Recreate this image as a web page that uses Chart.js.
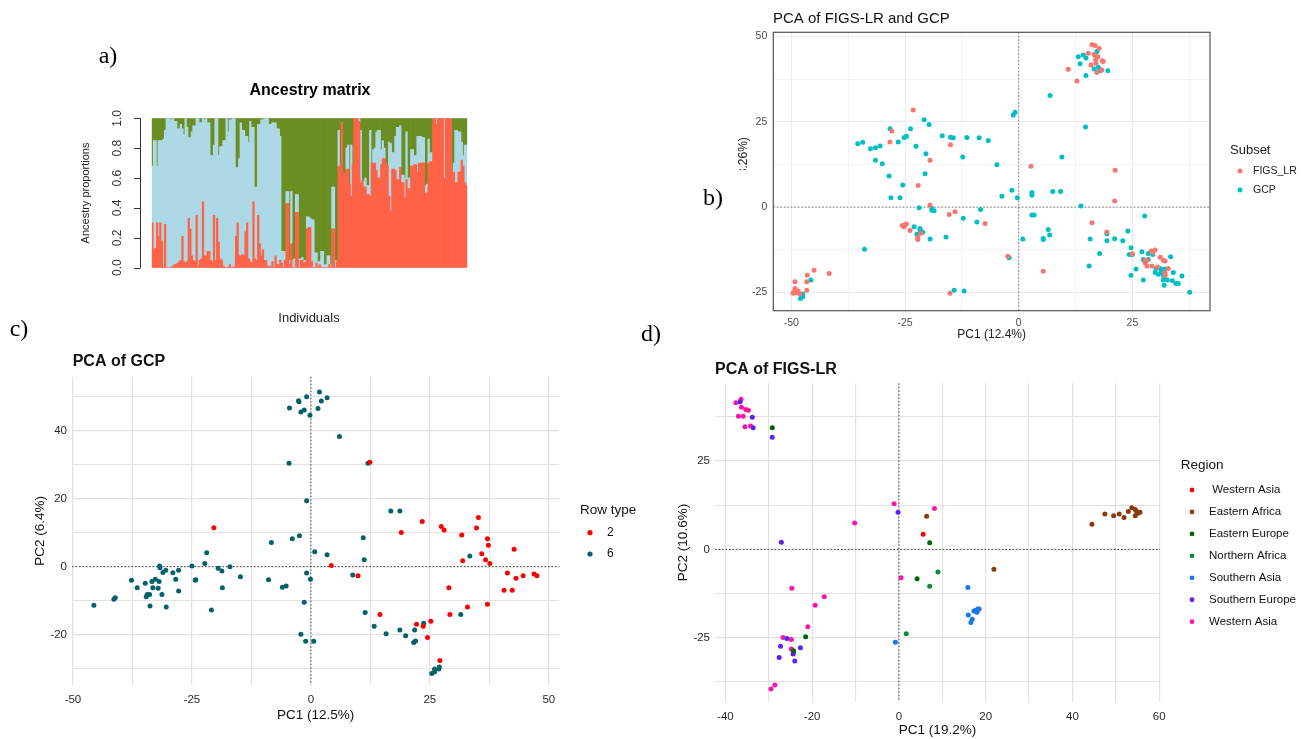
<!DOCTYPE html>
<html><head><meta charset="utf-8">
<script src="https://cdn.jsdelivr.net/npm/chart.js@4.4.1/dist/chart.umd.min.js"></script>
<style>
html,body{margin:0;padding:0;background:#fff;}
body{width:1311px;height:739px;position:relative;overflow:hidden;font-family:"Liberation Sans",Arial,sans-serif;}
canvas{position:absolute;}
.pl{position:absolute;font-family:"Liberation Serif","Times New Roman",serif;font-size:24px;color:#000;transform:translate(-50%,-50%);line-height:1;z-index:5;}
</style></head><body>
<canvas id="ca" width="700" height="340" style="left:0;top:0"></canvas>
<canvas id="cb" width="611" height="350" style="left:700px;top:0"></canvas>
<canvas id="cc" width="660" height="399" style="left:0;top:340px"></canvas>
<canvas id="cd" width="651" height="399" style="left:660px;top:340px"></canvas>
<div class="pl" style="left:108px;top:55px">a)</div>
<div class="pl" style="left:713px;top:197px">b)</div>
<div class="pl" style="left:19px;top:328px">c)</div>
<div class="pl" style="left:651px;top:333px">d)</div>
<script>
// ---------- Panel a: ancestry proportions (K=3) ----------
const ancestryRed = [
.30,.12,.13,.30,.21,.30,.18,.00,.29,.00, .00,.00,.00,.01,.02,.02,.03,.04,.05,.21,
.04,.03,.04,.33,.26,.08,.05,.04,.35,.01, .05,.06,.44,.08,.08,.11,.11,.05,.04,.35,
.05,.33,.17,.06,.05,.01,.00,.00,.00,.02, .00,.00,.01,.21,.30,.08,.08,.09,.08,.24,
.30,.06,.04,.03,.44,.06,.05,.35,.16,.08, .12,.05,.05,.01,.01,.00,.04,.00,.08,.02,
.02,.05,
.03,.00,.05,.43,.43,.02,.16,.00,.00,.37, .37,.00,.05,.05,.03,.04,.26,.27,.27,.04,
.00,.00,.03,.00,.02,.00,.00,.00,.00,.00, .02,.00,.26,.26,.00,.04,
.68,.68,.97,.63,.63,.66,.66,.56,.48,.69, 1.00,1.00,1.00,.98,.57,.59,.54,.54,.49,.49,
.48,.70,.70,.70,.65,.60,.60,.69,.73,.73, .70,.68,.48,.38,.66,.66,.65,.59,.59,.67,
.57,.57,.47,.59,.53,.53,.68,.68,.69,.69, .64,.70,.70,.70,.70,.50,.50,.70,.71,.71,
1.00,1.00,.96,1.00,1.00,1.00,1.00,.60,1.00,1.00, 1.00,1.00,.64,.64,.57,.57,.64,.64,.72,.68,
.57,.55];
const ancestryBlue = [
.38,.73,.72,.38,.64,.55,.67,.86,.63,1.00, 1.00,1.00,.99,.99,.96,.96,.90,.89,.91,.72,
.85,.97,.90,.54,.61,.83,.90,.91,.65,.99, .92,.91,.56,.91,.92,.86,.86,.70,.71,.47,
.95,.67,.58,.75,.76,.84,.85,1.00,.91,.97, .99,1.00,.99,.46,.37,.65,.89,.83,.84,.64,
.58,.78,.94,.91,.50,.48,.49,.61,.80,.91, .87,.95,.95,.99,.95,.96,.93,.97,.89,.91,
.91,.83,
.08,.11,.06,.08,.08,.03,.35,.05,.06,.12, .12,.06,.01,.02,.02,.01,.08,.07,.06,.28,
.32,.10,.07,.04,.02,.11,.11,.02,.02,.08, .06,.02,.28,.28,.05,.00,
.24,.00,.00,.00,.00,.14,.16,.00,.34,.00, .00,.00,.00,.02,.35,.00,.04,.06,.06,.06,
.44,.00,.09,.10,.26,.32,.32,.10,.12,.07, .00,.00,.36,.45,.11,.11,.23,.35,.35,.28,
.05,.05,.13,.32,.07,.07,.11,.11,.06,.06, .24,.18,.18,.17,.17,.05,.06,.16,.06,.06,
.00,.00,.04,.00,.00,.00,.00,.40,.00,.00, .00,.00,.00,.06,.35,.35,.27,.27,.12,.07,
.25,.27];
const ancestryGreen = [
.32,.15,.15,.32,.15,.15,.15,.14,.08,.00, .00,.00,.01,.00,.02,.02,.07,.07,.04,.07,
.11,.00,.06,.13,.13,.09,.05,.05,.00,.00, .03,.03,.00,.01,.00,.03,.03,.25,.25,.18,
.00,.00,.25,.19,.19,.15,.15,.00,.09,.01, .01,.00,.00,.33,.33,.27,.03,.08,.08,.12,
.12,.16,.02,.06,.06,.46,.46,.04,.04,.01, .01,.00,.00,.00,.04,.04,.03,.03,.03,.07,
.07,.12,
.89,.89,.89,.49,.49,.95,.49,.95,.94,.51, .51,.94,.94,.93,.95,.95,.66,.66,.67,.68,
.68,.90,.90,.96,.96,.89,.89,.98,.98,.92, .92,.98,.46,.46,.95,.96,
.08,.32,.03,.37,.37,.20,.18,.44,.18,.31, .00,.00,.00,.00,.08,.41,.42,.40,.45,.45,
.08,.30,.21,.20,.09,.08,.08,.21,.15,.20, .30,.32,.16,.17,.23,.23,.12,.06,.06,.05,
.38,.38,.40,.09,.40,.40,.21,.21,.25,.25, .12,.12,.12,.13,.13,.45,.44,.14,.23,.23,
.00,.00,.00,.00,.00,.00,.00,.00,.00,.00, .00,.00,.36,.30,.08,.08,.09,.09,.16,.25,
.18,.18];
const individuals = ancestryRed.map((_, i) => String(i + 1));
const aYTicks = [0, 0.2, 0.4, 0.6, 0.8, 1.0];
const aYLabels = ['0.0', '0.2', '0.4', '0.6', '0.8', '1.0'];

// ---------- Panel b: PCA of FIGS-LR and GCP ----------
const bFIGS_LR = [
[10.9,40.4],[12.8,37.0],[15.3,45.1],[16.1,47.6],[16.8,47.4],[17.7,46.6],[15.9,41.7],[16.9,43.3],[17.0,42.2],[18.4,42.9],[18.6,42.7],[17.2,39.5],[18.3,40.2],[17.4,44.1],[16.6,44.8],
[2.7,12.0],[21.2,10.8],[21.1,1.8],[16.1,-4.6],[19.4,-7.3],[25.0,-13.7],
[30.0,-12.6],[29.5,-13.3],[29.1,-12.9],[27.8,-16.3],[28.2,-17.3],[29.3,-17.3],[28.2,-15.6],[27.8,-15.6],[30.5,-17.6],[31.1,-14.7],[31.8,-15.6],[32.2,-15.8],[32.9,-18.0],[32.2,-19.3],[32.2,-20.0],
[5.4,-18.8],[-2.4,-14.4],[-7.4,-4.8],[-15.3,-2.2],[-14.0,-1.4],[-15.1,-25.3],
[-25.6,-5.4],[-25.0,-5.2],[-24.7,-5.0],[-25.2,-5.8],[-23.9,-6.9],[-22.2,-8.9],[-22.2,-9.5],[-21.5,-7.7],
[-19.5,0.6],[-22.1,6.3],[-19.5,13.7],[-28.3,19.1],[-27.9,22.3],[-23.2,28.5],[-15.0,18.3],
[-49.2,-21.9],[-49.2,-23.9],[-49.6,-25.3],[-48.9,-25.1],[-48.5,-24.6],[-48.1,-25.5],[-49.5,-24.9],[-46.5,-20.0],[-46.6,-21.9],[-46.6,-24.4],[-45.0,-18.5],[-41.7,-19.5]];
const bGCP = [
[13.1,44.1],[14.2,44.6],[13.5,42.0],[14.8,43.7],[14.8,38.6],[16.6,40.5],[17.5,41.0],[17.9,40.0],[19.6,40.0],[16.7,44.6],[17.2,45.6],
[6.9,32.7],[14.7,23.5],[-1.2,27.0],[-0.8,27.8],[9.5,14.7],
[7.5,4.6],[9.2,4.6],[2.9,4.3],[2.9,3.5],[-1.5,4.9],[-0.3,2.7],[-3.7,3.2],[-4.8,12.4],[13.7,0.3],[2.9,-2.3],[3.4,-2.3],[27.7,-2.6],
[19.4,-7.8],[19.4,-9.9],[15.7,-9.4],[21.1,-9.3],[22.9,-9.9],[24.0,-7.0],[24.7,-11.9],[17.8,-13.6],[15.5,-17.3],[24.3,-13.9],[25.0,-13.9],[25.8,-18.2],[24.7,-20.0],[27.4,-21.4],
[27.1,-13.1],[28.5,-13.6],[27.4,-15.4],[28.5,-15.4],[30.2,-18.0],[30.0,-19.2],[30.7,-19.7],[31.3,-19.3],[31.1,-18.0],[32.0,-18.2],[33.4,-14.6],[34.0,-19.2],[31.8,-21.4],[32.0,-22.9],[32.2,-21.2],[32.7,-21.4],[33.8,-21.6],[34.6,-22.4],[35.1,-22.4],[35.9,-20.2],[37.6,-25.0],[31.8,-20.0],[29.5,-13.9],
[0.9,-9.4],[5.4,-9.2],[5.4,-9.5],[6.5,-6.6],[6.8,-8.2],[-2.1,-14.9],[-12.2,-3.3],[-9.2,-4.4],[-8.4,-0.7],[-16.0,-8.8],[-14.2,-24.4],[-12.0,-24.6],[-33.9,-12.4],
[-23.0,-5.8],[-21.7,-6.3],[-21.7,-6.8],[-21.1,-7.4],[-22.4,-8.0],[-19.5,-9.4],
[-19.1,-0.4],[-18.6,-1.1],[-19.1,-0.9],[-21.9,-0.2],[-25.5,6.5],[-28.1,2.7],[-26.1,2.7],[-28.5,9.1],[-20.6,9.8],[-20.4,15.6],[-31.5,13.7],[-30.0,12.7],
[-35.4,18.6],[-34.3,19.0],[-32.6,17.1],[-31.5,17.4],[-30.5,17.9],[-26.5,19.1],[-28.3,23.0],[-25.2,20.4],[-24.7,20.8],[-23.8,23.0],[-22.6,17.8],[-20.8,25.6],[-19.7,24.2],[-16.8,20.9],[-15.0,20.5],[-14.4,20.3],[-11.4,20.4],[-8.7,20.3],[-6.7,19.5],[-12.3,14.7],
[-48.0,-26.8],[-47.5,-26.3],[-47.5,-25.5],[-45.7,-21.4]];
const bXTicks = [-50,-37.5,-25,-12.5,0,12.5,25,37.5];
const bXLabels = ['-50','','-25','','0','','25',''];
const bYTicks = [-25,-12.5,0,12.5,25,37.5,50];
const bYLabels = ['-25','','0','','25','','50'];

// ---------- Panel c: PCA of GCP ----------
const cRow2 = [
[-20.4,11.5],[4.3,0.3],[9.9,-2.7],[12.4,30.8],[19.0,10.1],[14.5,-14.1],[22.2,-17.0],[23.6,-17.6],[24.5,-20.9],[25.2,-16.1],[27.1,-27.7],[23.4,13.3],[27.4,11.8],[28.0,10.8],[29.0,-6.2],[29.2,-14.1],[31.7,9.3],[31.9,1.7],[32.9,-11.9],[34.8,11.4],[35.2,14.5],[35.9,3.8],[36.7,2.0],[37.6,0.9],[37.1,8.2],[37.3,6.3],[37.1,-11.1],[40.6,-7.0],[42.3,-7.0],[41.3,-1.9],[42.7,5.1],[43.1,-3.4],[44.6,-2.7],[46.9,-2.2],[47.5,-2.7]];
const cRow6 = [
[-4.5,46.8],[-2.5,48.6],[-2.6,48.9],[-0.9,50.1],[1.8,51.5],[2.2,48.8],[3.4,49.8],[1.5,46.6],[-2.1,45.6],[-1.4,46.2],[-0.2,44.6],[6.0,38.4],[-4.6,30.5],[-0.9,19.4],[-8.3,7.1],[-3.9,8.2],[-2.4,9.1],[-21.9,4.1],[0.8,4.4],[3.4,3.5],[-22.3,0.9],[-17.0,0],[-19.5,-0.5],[-18.7,-1.3],[-14.8,-3.0],[-24.2,-3.9],[-18.6,-6.2],[-20.9,-12.8],[-8.9,-3.9],[-6.0,-6.1],[-5.2,-5.7],[-0.9,-1.9],[-0.1,-3.7],[-1.4,-10.5],[-2.1,-19.9],[-1.1,-22.0],[0.6,-22.0],[8.8,-2.5],
[-45.6,-11.4],[-41.4,-9.6],[-41.1,-9.2],[-37.7,-4.0],[-36.5,-6.2],[-34.8,-4.9],[-34.6,-8.9],[-34.4,-8.2],[-33.9,-8.2],[-33.8,-11.6],[-33.4,-4.4],[-33.2,-6.2],[-32.7,-3.7],[-32.1,-6.4],[-31.9,-4.4],[-31.3,-8.2],[-31.8,0.2],[-31.7,-0.3],[-31.1,-1.7],[-30.5,-1.1],[-30.4,-11.9],[-29.0,-1.8],[-28.4,-3.7],[-27.8,-1.1],[-27.8,-7.2],[-25.0,0.2],[-24.3,-4.0],
[12.0,30.5],[16.8,16.4],[18.7,16.4],[11.0,8.5],[11.2,2.0],[11.4,-13.5],[13.3,-17.6],[15.8,-19.8],[18.7,-18.7],[19.9,-20.4],[21.8,-18.7],[21.6,-22.4],[22.0,-21.9],[23.7,-16.7],[25.4,-31.5],[26.0,-31.0],[26.9,-30.2],[27.0,-29.6],[26.0,-30.2],[33.4,3.1],[31.5,-14.1]];
const cXTicks = [-50,-37.5,-25,-12.5,0,12.5,25,37.5,50];
const cXLabels = ['-50','','-25','','0','','25','','50'];
const cYTicks = [-30,-20,-10,0,10,20,30,40,50];
const cYLabels = ['','-20','','0','','20','','40',''];

// ---------- Panel d: PCA of FIGS-LR ----------
const dWesternAsia1 = [[5.6,4.3]];
const dEasternAfrica = [[6.4,9.4],[21.9,-5.6],[44.5,7.1],[47.5,10.0],[49.5,9.5],[50.8,10.0],[51.9,9.0],[52.9,10.7],[53.7,11.8],[54.5,11.3],[54.5,9.5],[55.1,10.2],[55.6,10.5],[54.8,10.7]];
const dEasternEurope = [[-29.2,34.4],[-21.5,-24.7],[-24.3,-28.7],[7.1,1.9],[4.2,-8.3]];
const dNorthernAfrica = [[1.7,-23.9],[7.1,-10.4],[9.0,-6.4]];
const dSouthernAsia = [[-0.8,-26.3],[15.9,-10.8],[16.0,-18.6],[16.6,-20.7],[16.9,-19.8],[17.3,-17.4],[17.8,-17.2],[18.2,-16.9],[18.5,-16.9],[18.0,-17.8]];
const dSouthernEurope = [[-36.6,41.8],[-33.8,37.4],[-33.6,34.4],[-29.2,31.7],[-27.1,2.0],[-27.3,-27.4],[-27.6,-30.6],[-25.8,-25.2],[-24.4,-29.6],[-24.3,-29.1],[-24.0,-31.6],[-22.7,-27.8],[-0.2,10.5]];
const dWesternAsia2 = [[-37.6,41.5],[-36.4,42.5],[-36.3,40.2],[-35.3,39.6],[-34.7,39.4],[-37.0,37.7],[-35.9,37.7],[-35.5,34.7],[-34.2,34.9],[-26.7,-24.9],[-24.8,-25.5],[-24.7,-11.0],[-21.0,-21.9],[-19.3,-15.8],[-17.2,-13.4],[-10.2,7.5],[-1.1,12.9],[8.2,11.6],[0.5,-8.0],[-29.5,-39.5],[-28.6,-38.4],[-24.8,-28.2]];
const dRegions = [' Western Asia','Eastern Africa','Eastern Europe','Northern Africa','Southern Asia','Southern Europe','Western Asia'];
const dXTicks = [-40,-30,-20,-10,0,10,20,30,40,50,60];
const dXLabels = ['-40','','-20','','0','','20','','40','','60'];
const dYTicks = [-37.5,-25,-12.5,0,12.5,25,37.5];
const dYLabels = ['','-25','','0','','25',''];

// ---------- helpers ----------
const SANS = '"Liberation Sans", Arial, sans-serif';
function txt(ctx, s, x, y, font, color, align, base, rot) {
  ctx.save(); ctx.font = font; ctx.fillStyle = color;
  ctx.textAlign = align || 'left'; ctx.textBaseline = base || 'middle';
  ctx.translate(x, y); if (rot) ctx.rotate(rot); ctx.fillText(s, 0, 0); ctx.restore();
}
function pts(a) { return a.map(p => ({x: p[0], y: p[1]})); }
function zeroLines(chart, color) {
  const {ctx, chartArea: ca, scales} = chart;
  const x0 = scales.x.getPixelForValue(0), y0 = scales.y.getPixelForValue(0);
  ctx.save(); ctx.strokeStyle = color; ctx.lineWidth = 1; ctx.setLineDash([1.5, 2]);
  ctx.beginPath(); ctx.moveTo(x0, ca.top); ctx.lineTo(x0, ca.bottom);
  ctx.moveTo(ca.left, y0); ctx.lineTo(ca.right, y0); ctx.stroke(); ctx.restore();
}
function legend(ctx, L) {
  txt(ctx, L.title, L.tx, L.ty, L.tfont, L.tcolor);
  L.items.forEach((it, i) => {
    const y = L.y0 + i * L.dy;
    ctx.save(); ctx.fillStyle = it.color; ctx.beginPath(); ctx.arc(L.dx, y, L.r, 0, Math.PI * 2); ctx.fill(); ctx.restore();
    txt(ctx, it.label, L.lx, y, L.lfont, L.lcolor);
  });
}
function fixedTicks(values) { return scale => { scale.ticks = values.map(v => ({value: v})); }; }
function scatterScales(o) {
  return {
    x: {type: 'linear', min: o.xmin, max: o.xmax, afterBuildTicks: fixedTicks(o.xt),
        afterFit: s => { s.height = 20; },
        border: {display: false},
        grid: {color: o.gc, lineWidth: c => o.xl[c.index] ? o.gwMaj : o.gwMin, drawTicks: false},
        ticks: {callback: (v, i) => o.xl[i], autoSkip: false, maxRotation: 0, minRotation: 0,
                padding: o.xpad, color: o.tc, font: {family: SANS, size: o.ts}}},
    y: {type: 'linear', min: o.ymin, max: o.ymax, afterBuildTicks: fixedTicks(o.yt),
        afterFit: s => { s.width = 30; },
        border: {display: false},
        grid: {color: o.gc, lineWidth: c => o.yl[c.index] ? o.gwMaj : o.gwMin, drawTicks: false},
        ticks: {callback: (v, i) => o.yl[i], autoSkip: false, padding: o.ypad, color: o.tc,
                font: {family: SANS, size: o.ts}}}
  };
}
const baseOpts = {responsive: false, animation: false, devicePixelRatio: 1,
  plugins: {legend: {display: false}, tooltip: {enabled: false}}, events: []};

// ---------- Chart a ----------
new Chart(document.getElementById('ca'), {
  type: 'bar',
  data: {labels: individuals, datasets: [
    {data: ancestryRed, backgroundColor: '#FF6347'},
    {data: ancestryBlue, backgroundColor: '#ADD8E6'},
    {data: ancestryGreen, backgroundColor: '#6B8E23'}]},
  options: Object.assign({}, baseOpts, {
    layout: {padding: {left: 151.7, right: 232.7, top: 118.3, bottom: 72.3}},
    datasets: {bar: {barPercentage: 1, categoryPercentage: 1, borderWidth: 0, inflateAmount: 0.35}},
    scales: {x: {display: false, stacked: true}, y: {display: false, stacked: true, min: 0, max: 1}}
  }),
  plugins: [{id: 'decorA', afterDraw(chart) {
    const ctx = chart.ctx, y = chart.scales.y;
    ctx.save(); ctx.strokeStyle = '#333'; ctx.lineWidth = 1;
    ctx.beginPath(); ctx.moveTo(140.5, y.getPixelForValue(0)); ctx.lineTo(140.5, y.getPixelForValue(1));
    aYTicks.forEach(v => { const p = Math.round(y.getPixelForValue(v)) + 0.5; ctx.moveTo(134, p); ctx.lineTo(140.5, p); });
    ctx.stroke(); ctx.restore();
    aYTicks.forEach((v, i) => txt(ctx, aYLabels[i], 118, y.getPixelForValue(v), '12px ' + SANS, '#333', 'center', 'middle', -Math.PI / 2));
    txt(ctx, 'Ancestry proportions', 86, 193, '11px ' + SANS, '#222', 'center', 'middle', -Math.PI / 2);
    txt(ctx, 'Ancestry matrix', 310, 91, 'bold 16px ' + SANS, '#000', 'center', 'middle');
    txt(ctx, 'Individuals', 309, 318, '13px ' + SANS, '#222', 'center', 'middle');
  }}]
});

// ---------- Chart b ----------
new Chart(document.getElementById('cb'), {
  type: 'scatter',
  data: {datasets: [
    {label: 'FIGS_LR', data: pts(bFIGS_LR), backgroundColor: '#F8766D', pointRadius: 2.5, borderWidth: 0},
    {label: 'GCP', data: pts(bGCP), backgroundColor: '#00BFC4', pointRadius: 2.5, borderWidth: 0}]},
  options: Object.assign({}, baseOpts, {
    layout: {padding: {left: 43.3, right: 101, top: 32.3, bottom: 19.3}},
    scales: scatterScales({xmin: -53.97, xmax: 42.07, ymin: -30.4, ymax: 51.26, xt: bXTicks, xl: bXLabels,
      yt: bYTicks, yl: bYLabels, gc: c => '#EBEBEB', gwMaj: 1, gwMin: 0.6, xpad: 6, ypad: 6, tc: '#4D4D4D', ts: 10.5})
  }),
  plugins: [{id: 'decorB',
    beforeDatasetsDraw(chart) { zeroLines(chart, '#777'); },
    afterDraw(chart) {
      const ctx = chart.ctx, ca = chart.chartArea;
      ctx.save(); ctx.strokeStyle = '#555'; ctx.lineWidth = 1.2; ctx.strokeRect(ca.left, ca.top, ca.right - ca.left, ca.bottom - ca.top); ctx.restore();
      txt(ctx, 'PCA of FIGS-LR and GCP', 73, 19, '15px ' + SANS, '#111');
      txt(ctx, 'PC1 (12.4%)', (ca.left + ca.right) / 2, 335, '12px ' + SANS, '#222', 'center');
      ctx.save(); ctx.beginPath(); ctx.rect(0, 0, 70, 170); ctx.clip();
      txt(ctx, 'PC2 (8.26%)', 44, (ca.top + ca.bottom) / 2, '12px ' + SANS, '#222', 'center', 'middle', -Math.PI / 2);
      ctx.restore();
      legend(ctx, {title: 'Subset', tx: 530, ty: 150, tfont: '13px ' + SANS, tcolor: '#222',
        items: chart.data.datasets.map(d => ({label: d.label, color: d.backgroundColor})),
        dx: 540, lx: 553, y0: 171, dy: 19, r: 2.5, lfont: '10.5px ' + SANS, lcolor: '#222'});
    }}]
});

// ---------- Chart c ----------
new Chart(document.getElementById('cc'), {
  type: 'scatter',
  data: {datasets: [
    {label: '2', data: pts(cRow2), backgroundColor: '#FF0000', pointRadius: 2.5, borderWidth: 0},
    {label: '6', data: pts(cRow6), backgroundColor: '#02616B', pointRadius: 2.5, borderWidth: 0}]},
  options: Object.assign({}, baseOpts, {
    layout: {padding: {left: 42, right: 100.7, top: 36.7, bottom: 34}},
    scales: scatterScales({xmin: -50.2, xmax: 52.2, ymin: -34.9, ymax: 56.0, xt: cXTicks, xl: cXLabels,
      yt: cYTicks, yl: cYLabels, gc: c => '#E2E2E2', gwMaj: 1.2, gwMin: 1.1, xpad: 8, ypad: 5, tc: '#2b2b2b', ts: 11.5})
  }),
  plugins: [{id: 'decorC',
    beforeDatasetsDraw(chart) { zeroLines(chart, '#444'); },
    afterDraw(chart) {
      const ctx = chart.ctx, ca = chart.chartArea;
      txt(ctx, 'PCA of GCP', 72.7, 22, 'bold 16px ' + SANS, '#111');
      txt(ctx, 'PC1 (12.5%)', (ca.left + ca.right) / 2, 375.7, '13.5px ' + SANS, '#111', 'center');
      txt(ctx, 'PC2 (6.4%)', 40, (ca.top + ca.bottom) / 2, '13.5px ' + SANS, '#111', 'center', 'middle', -Math.PI / 2);
      legend(ctx, {title: 'Row type', tx: 580, ty: 170, tfont: '13.5px ' + SANS, tcolor: '#111',
        items: chart.data.datasets.map(d => ({label: d.label, color: d.backgroundColor})),
        dx: 590, lx: 607, y0: 192.7, dy: 21.3, r: 2.6, lfont: '12px ' + SANS, lcolor: '#111'});
    }}]
});

// ---------- Chart d ----------
const dColors = ['#FF0000', '#8B3A0E', '#006400', '#118A3C', '#1877EA', '#5A23F5', '#FF14AA'];
const dSeries = [dWesternAsia1, dEasternAfrica, dEasternEurope, dNorthernAfrica, dSouthernAsia, dSouthernEurope, dWesternAsia2];
new Chart(document.getElementById('cd'), {
  type: 'scatter',
  data: {datasets: dSeries.map((s, i) => ({label: dRegions[i], data: pts(s), backgroundColor: dColors[i], pointRadius: 2.5, borderWidth: 0}))},
  options: Object.assign({}, baseOpts, {
    layout: {padding: {left: 25, right: 151, top: 43.3, bottom: 17.3}},
    scales: scatterScales({xmin: -42.4, xmax: 60.2, ymin: -43.1, ymax: 47.0, xt: dXTicks, xl: dXLabels,
      yt: dYTicks, yl: dYLabels, gc: c => '#E2E2E2', gwMaj: 1.2, gwMin: 1.1, xpad: 8, ypad: 5, tc: '#2b2b2b', ts: 11.5})
  }),
  plugins: [{id: 'decorD',
    beforeDatasetsDraw(chart) { zeroLines(chart, '#444'); },
    afterDraw(chart) {
      const ctx = chart.ctx, ca = chart.chartArea;
      txt(ctx, 'PCA of FIGS-LR', 55, 30, 'bold 16px ' + SANS, '#111');
      txt(ctx, 'PC1 (19.2%)', (ca.left + ca.right) / 2, 390, '13.5px ' + SANS, '#111', 'center');
      txt(ctx, 'PC2 (10.6%)', 23, (ca.top + ca.bottom) / 2, '13.5px ' + SANS, '#111', 'center', 'middle', -Math.PI / 2);
      legend(ctx, {title: 'Region', tx: 520.7, ty: 125, tfont: '13.5px ' + SANS, tcolor: '#111',
        items: chart.data.datasets.map(d => ({label: d.label, color: d.backgroundColor})),
        dx: 532, lx: 549, y0: 150, dy: 21.95, r: 2.4, lfont: '11.5px ' + SANS, lcolor: '#111'});
    }}]
});
</script>
</body></html>
